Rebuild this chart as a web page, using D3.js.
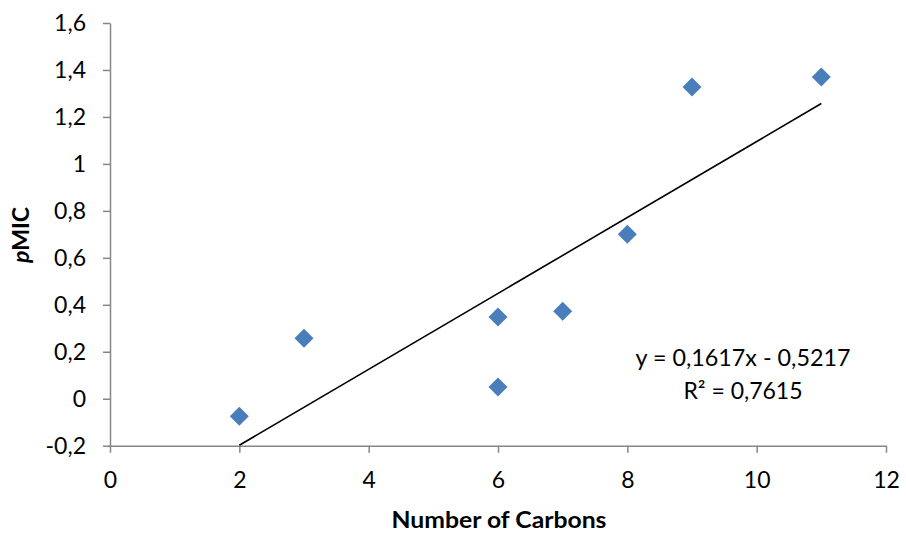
<!DOCTYPE html>
<html><head><meta charset="utf-8">
<script src="https://cdn.jsdelivr.net/npm/d3@7"></script>
<style>body{margin:0;background:#fff}svg{display:block}text{font-family:Lato,"Open Sans",sans-serif}</style>
</head><body><svg id="c" width="906" height="534"></svg>
<script>
const carbons = [2, 3, 6, 6, 7, 8, 9, 11];
const pMIC = [-0.075, 0.258, 0.348, 0.05, 0.373, 0.70, 1.327, 1.37];
const xTicks = [0, 2, 4, 6, 8, 10, 12];
const yTicks = [-0.2, 0, 0.2, 0.4, 0.6, 0.8, 1, 1.2, 1.4, 1.6];
const slope = 0.1617, intercept = -0.5217;
const eqText = "y = 0,1617x - 0,5217";
const r2Text = "R² = 0,7615";

const svg = d3.select("#c");
const x = d3.scaleLinear().domain([0, 12]).range([110, 886]);
const y = d3.scaleLinear().domain([-0.2, 1.6]).range([445.7, 23]);
const fmt = d => String(+d.toFixed(1)).replace(".", ",");
const axisColor = "#868686";

const gx = svg.append("g").attr("transform", `translate(0,${y(-0.2)})`)
  .call(d3.axisBottom(x).tickValues(xTicks).tickSize(7).tickSizeOuter(0).tickPadding(19).tickFormat(d => d));
const gy = svg.append("g").attr("transform", `translate(${x(0)},0)`)
  .call(d3.axisLeft(y).tickValues(yTicks).tickSize(7).tickSizeOuter(0).tickPadding(17).tickFormat(fmt));
[gx, gy].forEach(g => {
  g.selectAll("path,line").attr("stroke", axisColor).attr("stroke-width", 1.5);
  g.selectAll("text").attr("fill", "#000").style("font-size", "23px");
});

// trendline
svg.append("line")
  .attr("x1", x(2)).attr("y1", y(slope * 2 + intercept))
  .attr("x2", x(11)).attr("y2", y(slope * 11 + intercept))
  .attr("stroke", "#000").attr("stroke-width", 1.6);

// points
const sym = d3.symbol().type(d3.symbolDiamond2).size(230);
svg.selectAll("path.pt").data(carbons.map((c, i) => [c, pMIC[i]])).enter()
  .append("path").attr("class", "pt")
  .attr("d", sym)
  .attr("transform", d => `translate(${x(d[0])},${y(d[1])})`)
  .attr("fill", "#4a7ebb");

// equation
svg.append("text").attr("x", 743).attr("y", 366).attr("text-anchor", "middle")
  .style("font-size", "23px").attr("textLength", 215).attr("lengthAdjust", "spacingAndGlyphs").text(eqText);
svg.append("text").attr("x", 743).attr("y", 399).attr("text-anchor", "middle")
  .style("font-size", "23px").text(r2Text);

// axis titles
svg.append("text").attr("x", 499).attr("y", 528).attr("text-anchor", "middle")
  .style("font-size", "23px").style("font-weight", "bold")
  .attr("textLength", 215).attr("lengthAdjust", "spacingAndGlyphs").text("Number of Carbons");
const yt = svg.append("text").attr("transform", `translate(29,235) rotate(-90)`)
  .attr("text-anchor", "middle").style("font-size", "23px").style("font-weight", "bold");
yt.append("tspan").style("font-style", "italic").text("p");
yt.append("tspan").text("MIC");
</script></body></html>
